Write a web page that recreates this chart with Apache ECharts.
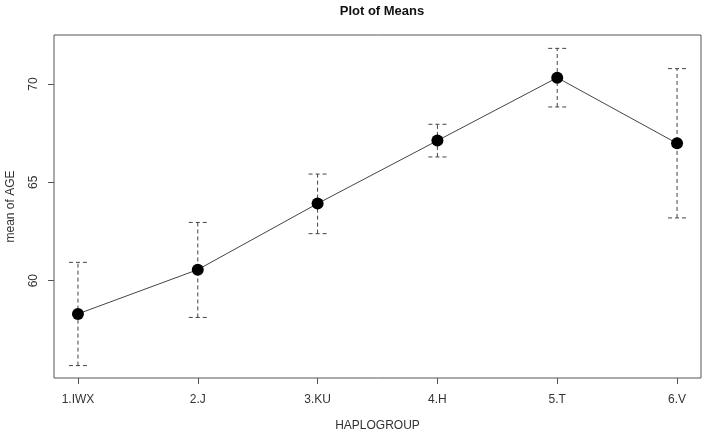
<!DOCTYPE html>
<html>
<head>
<meta charset="utf-8">
<script src="https://cdn.jsdelivr.net/npm/echarts@6/dist/echarts.min.js"></script>
<style>
html,body{margin:0;padding:0;background:#fff;}
#chart{width:703px;height:435px;}
</style>
</head>
<body>
<div id="chart"></div>
<script>
var categories = ['1.IWX', '2.J', '3.KU', '4.H', '5.T', '6.V'];
var means = [58.31, 60.56, 63.92, 67.12, 70.32, 66.98];
var upper = [60.93, 62.96, 65.42, 67.95, 71.81, 70.78];
var lower = [55.68, 58.13, 62.39, 66.29, 68.83, 63.19];
var yTicks = [60, 65, 70];

var positions = categories.map(function (c, i) { return i + 1; });
var meanData = means.map(function (m, i) { return [positions[i], m]; });
var barData = means.map(function (m, i) { return [positions[i], lower[i], upper[i]]; });

var font = 'Liberation Sans, Arial, sans-serif';
var lineCol = '#444';

var chart = echarts.init(document.getElementById('chart'), null, {renderer: 'canvas'});
chart.setOption({
  animation: false,
  backgroundColor: '#fff',
  title: {
    text: 'Plot of Means',
    left: 377, top: 0, textAlign: 'center',
    textStyle: {fontFamily: font, fontSize: 13, fontWeight: 'bold', color: '#111'}
  },
  grid: {
    left: 54, right: 2, top: 35, bottom: 57,
    outerBoundsMode: 'none', containLabel: false,
    show: true, borderColor: '#555', borderWidth: 1, backgroundColor: 'transparent'
  },
  xAxis: {
    type: 'value', min: 0.8, max: 6.2,
    name: 'HAPLOGROUP', nameLocation: 'middle', nameGap: 42,
    nameTextStyle: {fontFamily: font, fontSize: 12, color: '#333'},
    splitLine: {show: false},
    axisLine: {show: false},
    axisTick: {show: true, length: 6, lineStyle: {color: '#555'}, customValues: positions},
    axisLabel: {
      margin: 16, fontFamily: font, fontSize: 12, color: '#333',
      customValues: positions,
      formatter: function (v) { return categories[Math.round(v) - 1] || ''; }
    }
  },
  yAxis: {
    type: 'value', min: 55.05, max: 72.49,
    name: 'mean of AGE', nameLocation: 'middle', nameGap: 37,
    nameTextStyle: {fontFamily: font, fontSize: 12, color: '#333'},
    splitLine: {show: false},
    axisLine: {show: false},
    axisTick: {show: true, length: 6, lineStyle: {color: '#555'}, customValues: yTicks},
    axisLabel: {
      margin: 14, rotate: 90, fontFamily: font, fontSize: 12, color: '#333',
      customValues: yTicks
    }
  },
  series: [
    {
      type: 'custom',
      data: barData,
      z: 1,
      renderItem: function (params, api) {
        var x = api.value(0);
        var lo = api.coord([x, api.value(1)]);
        var hi = api.coord([x, api.value(2)]);
        var half = 9;
        var style = {stroke: lineCol, lineWidth: 1, lineDash: [4, 3]};
        return {
          type: 'group',
          children: [
            {type: 'line', shape: {x1: lo[0], y1: lo[1], x2: hi[0], y2: hi[1]}, style: style},
            {type: 'line', shape: {x1: hi[0] - half, y1: hi[1], x2: hi[0] + half, y2: hi[1]}, style: style},
            {type: 'line', shape: {x1: lo[0] - half, y1: lo[1], x2: lo[0] + half, y2: lo[1]}, style: style}
          ]
        };
      }
    },
    {
      type: 'line',
      data: meanData,
      z: 2,
      symbol: 'circle',
      symbolSize: 12,
      itemStyle: {color: '#000'},
      lineStyle: {color: lineCol, width: 1}
    }
  ]
});
</script>
</body>
</html>
